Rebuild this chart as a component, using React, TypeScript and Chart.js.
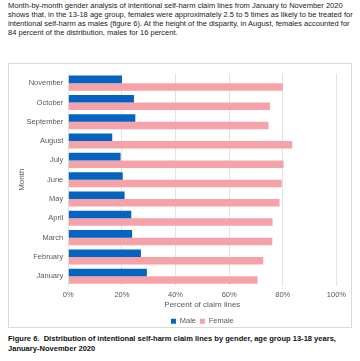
import React, { useEffect, useRef } from "react";
import { Chart, registerables } from "chart.js";

Chart.register(...registerables);

const months = ["November", "October", "September", "August", "July", "June", "May", "April", "March", "February", "January"];
const male = [20, 24.5, 25, 16.4, 19.5, 20.3, 21, 23.5, 23.8, 27.1, 29.3];
const female = [80, 75.2, 74.7, 83.5, 80.3, 79.6, 78.8, 76.2, 76.1, 72.7, 70.6];
const xTicks = [0, 20, 40, 60, 80, 100];

const introLines = [
  "Month-by-month gender analysis of intentional self-harm claim lines from January to November 2020",
  "shows that, in the 13-18 age group, females were approximately 2.5 to 5 times as likely to be treated for",
  "intentional self-harm as males (figure 6). At the height of the disparity, in August, females accounted for",
  "84 percent of the distribution, males for 16 percent.",
];
const captionLines = [
  "Figure 6.  Distribution of intentional self-harm claim lines by gender, age group 13-18 years,",
  "January-November 2020",
];

const FONT = "'Liberation Sans', Arial, sans-serif";

const legendToPlot = {
  id: "legendToPlot",
  afterLayout(chart: any) {
    const lg = chart.legend;
    if (lg) {
      lg.left = chart.chartArea.left;
      lg.right = chart.chartArea.right;
      lg.width = lg.right - lg.left;
    }
  },
};

export default function App() {
  const ref = useRef<HTMLCanvasElement>(null);
  useEffect(() => {
    const chart = new Chart(ref.current!, {
      type: "bar",
      data: {
        labels: months,
        datasets: [
          { label: "Male", data: male, backgroundColor: "#0563C1", categoryPercentage: 0.78, barPercentage: 1 },
          { label: "Female", data: female, backgroundColor: "#F5A3A8", categoryPercentage: 0.78, barPercentage: 1 },
        ],
      },
      plugins: [legendToPlot],
      options: {
        indexAxis: "y",
        animation: false,
        responsive: false,
        maintainAspectRatio: false,
        layout: { padding: { top: 3, right: 13, left: 8, bottom: -8 } },
        plugins: {
          tooltip: { enabled: false },
          legend: {
            position: "bottom",
            labels: { boxWidth: 5, boxHeight: 5, padding: 4, color: "#595959", font: { family: FONT, size: 7.5 } },
          },
        },
        scales: {
          x: {
            min: 0,
            max: 100,
            afterBuildTicks: (axis: any) => {
              axis.ticks = xTicks.map((v) => ({ value: v }));
            },
            ticks: { callback: (v: any) => v + "%", color: "#595959", font: { family: FONT, size: 7.5 }, padding: 5 },
            grid: { color: "#E3E3E3", drawTicks: false },
            border: { display: false },
            title: { display: true, text: "Percent of claim lines", color: "#595959", font: { family: FONT, size: 8 }, padding: { top: -5, bottom: 4 } },
          },
          y: {
            ticks: { color: "#595959", font: { family: FONT, size: 7.5 }, padding: 5 },
            grid: { display: false, drawTicks: false },
            border: { display: false },
            title: { display: true, text: "Month", color: "#595959", font: { family: FONT, size: 8 }, padding: { top: 0, bottom: -5 } },
          },
        },
      },
    });
    return () => chart.destroy();
  }, []);

  return (
    <div style={{ position: "absolute", left: 0, top: 0, width: 360, height: 361, background: "#fff", fontFamily: FONT }}>
      <div style={{ position: "absolute", left: 8, top: 2, fontSize: 7.52, lineHeight: "8.9px", color: "#222", whiteSpace: "nowrap" }}>
        {introLines.map((l, i) => (
          <div key={i}>{l}</div>
        ))}
      </div>
      <div style={{ position: "absolute", left: 8, top: 63, width: 342, height: 263, border: "1px solid #DADADA" }}>
        <canvas ref={ref} width={342} height={263} style={{ display: "block" }} />
      </div>
      <div style={{ position: "absolute", left: 8, top: 334, fontSize: 7.55, lineHeight: "9.6px", fontWeight: "bold", color: "#111", whiteSpace: "pre" }}>
        {captionLines.map((l, i) => (
          <div key={i}>{l}</div>
        ))}
      </div>
    </div>
  );
}
